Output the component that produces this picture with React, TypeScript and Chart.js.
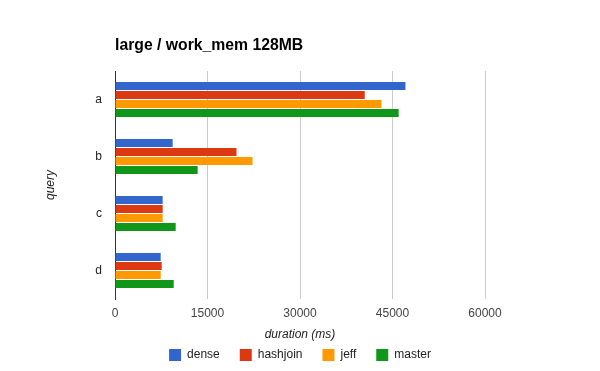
import React, { useEffect, useRef } from "react";
import { Chart, registerables } from "chart.js";

Chart.register(...registerables);

const categories = ["a", "b", "c", "d"];
const seriesNames = ["dense", "hashjoin", "jeff", "master"];
const denseValues = [47100, 9350, 7730, 7410];
const hashjoinValues = [40500, 19700, 7730, 7570];
const jeffValues = [43200, 22300, 7730, 7410];
const masterValues = [46000, 13400, 9840, 9520];
const seriesColors = ["#3366cc", "#dc3912", "#ff9900", "#109618"];
const xTicks = [0, 15000, 30000, 45000, 60000];

const FONT = "Arial, 'Liberation Sans', sans-serif";

export default function App() {
  const ref = useRef<HTMLCanvasElement | null>(null);

  useEffect(() => {
    document.body.style.margin = "0";
    const canvas = ref.current;
    if (!canvas) return;
    const values = [denseValues, hashjoinValues, jeffValues, masterValues];
    const chart = new Chart(canvas, {
      type: "bar",
      data: {
        labels: categories,
        datasets: seriesNames.map((name, i) => ({
          label: name,
          data: values[i],
          backgroundColor: seriesColors[i],
          borderWidth: 0,
          categoryPercentage: 36 / 57,
          barPercentage: 8 / 9,
        })),
      },
      options: {
        indexAxis: "y",
        responsive: false,
        animation: false,
        devicePixelRatio: 1,
        layout: { padding: { top: 0, bottom: 0, left: 0, right: 0 } },
        plugins: {
          tooltip: { enabled: false },
          title: {
            display: true,
            text: "large / work_mem 128MB",
            align: "start",
            fullSize: false,
            color: "#000",
            font: { family: FONT, size: 15.75, weight: "bold" },
            padding: { top: 36.5, bottom: 15.6 },
          },
          legend: {
            position: "bottom",
            labels: {
              boxWidth: 12,
              boxHeight: 12,
              padding: 20,
              color: "#222",
              font: { family: FONT, size: 12 },
            },
          },
        },
        scales: {
          x: {
            type: "linear",
            min: 0,
            max: 60000,
            afterBuildTicks: (s: any) => {
              s.ticks = xTicks.map((v) => ({ value: v }));
            },
            afterFit: (s: any) => {
              s.height = 30;
            },
            grid: {
              color: (ctx: any) => (ctx.tick && ctx.tick.value === 0 ? "rgba(0,0,0,0)" : "#cccccc"),
              drawTicks: false,
            },
            border: { display: false },
            ticks: {
              padding: 7,
              color: "#444",
              font: { family: FONT, size: 12 },
              callback: (v: any) => String(v),
            },
            title: {
              display: true,
              text: "duration (ms)",
              color: "#222",
              font: { family: FONT, size: 12, style: "italic" },
              padding: { top: 0, bottom: -13 },
            },
          },
          y: {
            type: "category",
            position: "left",
            afterFit: (s: any) => {
              s.width = 115;
            },
            grid: { display: false, drawTicks: false },
            border: { display: true, color: "#333", width: 1 },
            ticks: {
              padding: 13,
              color: "#222",
              font: { family: FONT, size: 12 },
            },
            title: {
              display: true,
              text: "query",
              color: "#222",
              font: { family: FONT, size: 12, style: "italic" },
              padding: { top: 43, bottom: 0 },
            },
          },
          yRight: {
            type: "linear",
            axis: "y",
            position: "right",
            display: true,
            grid: { display: false, drawTicks: false },
            border: { display: false },
            ticks: { display: false },
            afterFit: (s: any) => {
              s.width = 115;
            },
          },
        },
      },
    } as any);
    return () => chart.destroy();
  }, []);

  return <canvas ref={ref} width={600} height={371} style={{ display: "block", width: 600, height: 371 }} />;
}
